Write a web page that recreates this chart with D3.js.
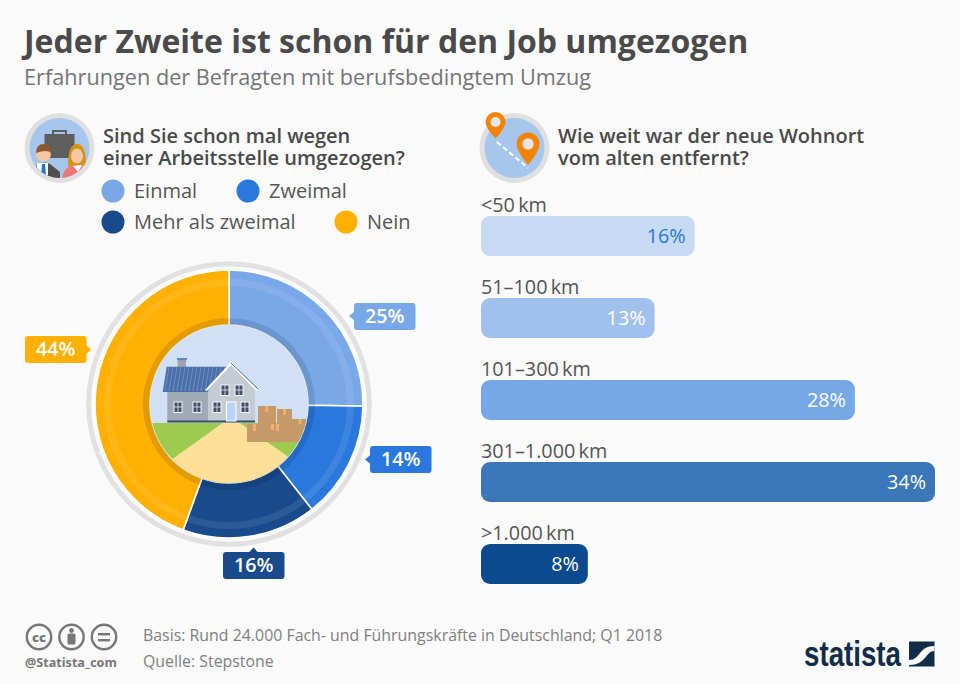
<!DOCTYPE html>
<html><head><meta charset="utf-8">
<script src="https://cdn.jsdelivr.net/npm/d3@7"></script>
<style>html,body{margin:0;padding:0;background:#fafafa}svg{display:block}text{font-family:"Open Sans",sans-serif}</style>
</head><body>
<script>
const donutCategories = ["Einmal","Zweimal","Mehr als zweimal","Nein"];
const donutValues = [25,14,16,44];
const donutColors = ["#79a8e8","#2a78de","#184a8c","#ffb000"];
const distanceCategories = ["<50\u2009km","51–100\u2009km","101–300\u2009km","301–1.000\u2009km",">1.000\u2009km"];
const distanceValues = [16,13,28,34,8];
const distanceColors = ["#c6daf3","#a0c1ee","#76a7e6","#3a76b8","#0b4a8f"];
const distanceTextColors = ["#2a78d4","#fff","#fff","#fff","#fff"];
const questionLeft = ["Sind Sie schon mal wegen","einer Arbeitsstelle umgezogen?"];
const questionRight = ["Wie weit war der neue Wohnort","vom alten entfernt?"];

const ink="#4a4a4a";
const svg=d3.select("body").append("svg").attr("width",960).attr("height",684);
svg.append("rect").attr("width",960).attr("height",684).attr("fill","#fafafa");
function T(x,y,s,size,fill,weight,anchor){
  return svg.append("text").attr("x",x).attr("y",y).text(s).attr("font-size",size).attr("fill",fill||ink)
   .attr("font-weight",weight||400).attr("text-anchor",anchor||"start");
}
function T2(x,y,lines,size,fill,weight,dy){
  const t=svg.append("text").attr("x",x).attr("y",y).attr("font-size",size).attr("fill",fill).attr("font-weight",weight);
  lines.forEach((l,i)=>t.append("tspan").attr("x",x).attr("dy",i?dy:0).text(l));
}
T(24,53,"Jeder Zweite ist schon für den Job umgezogen",32,ink,700);
T(24,85,"Erfahrungen der Befragten mit berufsbedingtem Umzug",21.7,"#757575");
T2(103,143,questionLeft,20,ink,600,22);
T2(558,143,questionRight,20,ink,600,22);

// legend
const legendPos=[[113,191],[248,191],[113,222],[346,222]];
donutCategories.forEach((c,i)=>{
  svg.append("circle").attr("cx",legendPos[i][0]).attr("cy",legendPos[i][1]).attr("r",11.5).attr("fill",donutColors[i]);
  T(legendPos[i][0]+21,legendPos[i][1]+7,c,20,"#555");
});

// icon 1
const ic1=svg.append("g");
ic1.append("circle").attr("cx",59.5).attr("cy",148).attr("r",35).attr("fill","#e0e0e0");
ic1.append("circle").attr("cx",59.5).attr("cy",148).attr("r",30).attr("fill","#a6c6ee");
ic1.append("defs").append("clipPath").attr("id","c1").append("circle").attr("cx",59.5).attr("cy",148).attr("r",30);
const ic1c=ic1.append("g").attr("clip-path","url(#c1)");
ic1c.append("rect").attr("x",44.5).attr("y",134).attr("width",30).attr("height",24).attr("fill","#5e5e5e");
ic1c.append("rect").attr("x",53).attr("y",131).attr("width",13).attr("height",4).attr("fill","none").attr("stroke","#5e5e5e").attr("stroke-width",2);
ic1c.append("path").attr("d","M36 178 V166 Q43 160 50 164 L60 172 V178Z").attr("fill","#4f4f4f");
ic1c.append("rect").attr("x",37).attr("y",163).attr("width",11).attr("height",15).attr("fill","#fff");
ic1c.append("path").attr("d","M42 164 h3 l1 12 h-5z").attr("fill","#1d76d2");
ic1c.append("circle").attr("cx",43.5).attr("cy",154).attr("r",7.5).attr("fill","#f5c6a0");
ic1c.append("path").attr("d","M36 153 Q36 144 44 144 Q51 144 51 153 Q47 149 36 153Z").attr("fill","#8a5a32");
ic1c.append("path").attr("d","M68 166 Q68 144 77 144 Q86 144 86 166 Z").attr("fill","#d6930f");
ic1c.append("path").attr("d","M62 178 Q64 168 72 165 H82 L86 178Z").attr("fill","#ee7676");
ic1c.append("path").attr("d","M73 166 L78 172 L82 165Z").attr("fill","#fff");
ic1c.append("ellipse").attr("cx",77).attr("cy",156).attr("rx",6).attr("ry",7.5).attr("fill","#f5c6a0");

// icon 2
const ic2=svg.append("g");
ic2.append("circle").attr("cx",514.5).attr("cy",148).attr("r",35).attr("fill","#e0e0e0");
ic2.append("circle").attr("cx",514.5).attr("cy",148).attr("r",30).attr("fill","#a6c6ee");
ic2.append("line").attr("x1",497).attr("y1",142).attr("x2",528).attr("y2",168).attr("stroke","#fff").attr("stroke-width",2).attr("stroke-dasharray","5 3");
function pin(cx,cy,r,tip){
  ic2.append("path").attr("d",`M${cx-r} ${cy} A${r} ${r} 0 1 1 ${cx+r} ${cy} Q${cx+r} ${cy+r*.6} ${cx} ${tip} Q${cx-r} ${cy+r*.6} ${cx-r} ${cy}Z`).attr("fill","#f58300");
  ic2.append("circle").attr("cx",cx).attr("cy",cy).attr("r",r*.5).attr("fill","#e6e6e6");
}
pin(495.5,122,10,138.5);
pin(528,144,11.5,165);

// donut
const cx=229,cy=404;
const don=svg.append("g").attr("transform",`translate(${cx},${cy})`);
don.append("circle").attr("r",140.3).attr("fill","none").attr("stroke","#e1e1e1").attr("stroke-width",5);
const pie=d3.pie().sort(null).value(d=>d)(donutValues);
const arc=d3.arc().innerRadius(79).outerRadius(134);
const band1=d3.arc().innerRadius(79).outerRadius(86);
const band2=d3.arc().innerRadius(118).outerRadius(125);
const defs=svg.append("defs");
defs.append("clipPath").attr("id","scene").append("circle").attr("cx",cx).attr("cy",cy).attr("r",79);

// centre scene
const sc=svg.append("g").attr("clip-path","url(#scene)");
sc.append("rect").attr("x",cx-80).attr("y",cy-80).attr("width",160).attr("height",160).attr("fill","#cfe0f7");
sc.append("rect").attr("x",cx-80).attr("y",423).attr("width",160).attr("height",70).attr("fill","#9ccb50");
sc.append("path").attr("d","M222.7 423 L240 423 L310 472 L229 500 L150 475Z").attr("fill","#fddf98");
sc.append("rect").attr("x",177.7).attr("y",360).attr("width",8.3).attr("height",7).attr("fill","#a0a4a8");
sc.append("rect").attr("x",177).attr("y",358).attr("width",10).attr("height",2.2).attr("fill","#5b8bc4");
sc.append("rect").attr("x",167.3).attr("y",391).attr("width",41).attr("height",31).attr("fill","#a0a9b4");
sc.append("path").attr("d","M162.7 392 L166.7 366.7 L230 366.7 L208 392Z").attr("fill","#486fa8");
d3.range(169,226,4).forEach(x=>sc.append("line").attr("x1",x).attr("y1",367).attr("x2",x-4).attr("y2",391).attr("stroke","#6f91c0").attr("stroke-width",1));
sc.append("path").attr("d","M208.3 390 L231 364 L255 390 V422 H208.3Z").attr("fill","#c5cbd3");
sc.append("path").attr("d","M206 390.5 L231 363.5 L257 390").attr("fill","none").attr("stroke","#fff").attr("stroke-width",2);
sc.append("path").attr("d","M231 363 L258 389").attr("fill","none").attr("stroke","#1e3f73").attr("stroke-width",.8);
sc.append("rect").attr("x",167.3).attr("y",420.5).attr("width",87.7).attr("height",2).attr("fill","#3a4d6e");
[[174,402],[193,402],[213,402],[241,402],[221,385],[235,385]].forEach(w=>{
  sc.append("rect").attr("x",w[0]).attr("y",w[1]).attr("width",8).attr("height",10.5).attr("fill","#43506a").attr("stroke","#fff").attr("stroke-width",.9);
  sc.append("path").attr("d",`M${w[0]+4} ${w[1]} v10.5 M${w[0]} ${w[1]+5} h8`).attr("stroke","#fff").attr("stroke-width",.7);
});
sc.append("rect").attr("x",226.5).attr("y",402).attr("width",9.5).attr("height",19).attr("fill","#b9d5f5").attr("stroke","#fff").attr("stroke-width",1);
[[258,406,18,19],[277,409,15,16],[292,419,16,8],[247,424,60,18]].forEach(b=>{
  sc.append("rect").attr("x",b[0]).attr("y",b[1]).attr("width",b[2]).attr("height",b[3]).attr("fill","#c69a68");
  sc.append("rect").attr("x",b[0]+b[2]*.4).attr("y",b[1]).attr("width",3).attr("height",Math.min(6,b[3])).attr("fill","#eeb06e");
});
sc.append("rect").attr("x",253).attr("y",424).attr("width",3).attr("height",7).attr("fill","#eeb06e");
sc.append("rect").attr("x",276).attr("y",424).attr("width",3).attr("height",7).attr("fill","#eeb06e");

don.selectAll("path.s").data(pie).join("path").attr("class","s").attr("d",arc)
  .attr("fill",(d,i)=>donutColors[i]).attr("stroke","#fff").attr("stroke-width",1.6);
don.selectAll("path.b1").data(pie).join("path").attr("class","b1").attr("d",band1).attr("fill","#000").attr("fill-opacity",.11);
don.selectAll("path.b2").data(pie).join("path").attr("class","b2").attr("d",band2).attr("fill","#fff").attr("fill-opacity",.09);

// callouts
const callouts=[
 {x:354,y:303,px:349,py:316,dir:"l"},
 {x:370,y:446,px:365,py:459.5,dir:"l"},
 {x:223,y:552,px:253.5,py:547.5,dir:"t"},
 {x:25,y:336,px:91,py:349.5,dir:"r"}];
callouts.forEach((c,i)=>{
  const col=donutColors[i],w=61.5,h=27;
  svg.append("rect").attr("x",c.x).attr("y",c.y).attr("width",w).attr("height",h).attr("rx",3).attr("fill",col);
  const p= c.dir==="l"?`M${c.x+1} ${c.py-5} L${c.px} ${c.py} L${c.x+1} ${c.py+5}Z`
        : c.dir==="r"?`M${c.x+w-1} ${c.py-5} L${c.px} ${c.py} L${c.x+w-1} ${c.py+5}Z`
        : `M${c.px-5} ${c.y+1} L${c.px} ${c.py} L${c.px+5} ${c.y+1}Z`;
  svg.append("path").attr("d",p).attr("fill",col);
  T(c.x+w/2,c.y+19.5,donutValues[i]+"%",19.6,"#fff",600,"middle");
});

// bars
const xS=d3.scaleLinear().domain([0,34]).range([0,454]);
const yS=d3.scaleBand().domain(distanceCategories).range([216,584]).paddingInner(42/82);
distanceCategories.forEach((c,i)=>{
  const y=yS(c),w=xS(distanceValues[i]);
  svg.append("rect").attr("x",481).attr("y",y).attr("width",w).attr("height",yS.bandwidth()).attr("rx",9).attr("fill",distanceColors[i]);
  T(481,y-4.5,c,19.8,"#555");
  T(481+w-9,y+26.5,distanceValues[i]+"%",19.8,distanceTextColors[i],400,"end");
});

// footer
[39,71.5,104].forEach(x=>svg.append("circle").attr("cx",x).attr("cy",637).attr("r",12.2).attr("fill","none").attr("stroke","#777").attr("stroke-width",2.4));
T(39,641.5,"cc",13,"#777",800,"middle");
svg.append("circle").attr("cx",71.5).attr("cy",630.5).attr("r",2.4).attr("fill","#777");
svg.append("rect").attr("x",67.5).attr("y",633.5).attr("width",8).attr("height",11).attr("rx",1.5).attr("fill","#777");
svg.append("rect").attr("x",98).attr("y",633).attr("width",12).attr("height",2.4).attr("fill","#777");
svg.append("rect").attr("x",98).attr("y",639).attr("width",12).attr("height",2.4).attr("fill","#777");
T(25,667,"@Statista_com",12.6,"#777",700);
T(143,640.5,"Basis: Rund 24.000 Fach- und Führungskräfte in Deutschland; Q1 2018",15.9,"#808080");
T(143,667,"Quelle: Stepstone",15.9,"#808080");

// logo
svg.append("text").attr("x",804).attr("y",666).text("statista").attr("font-size",35).attr("font-weight",700)
 .attr("fill","#0f2d48").attr("textLength",97).attr("lengthAdjust","spacingAndGlyphs").style("font-family","'Liberation Sans',sans-serif");
svg.append("rect").attr("x",909).attr("y",641.5).attr("width",25.5).attr("height",25).attr("fill","#0f2d48");
svg.append("path").attr("d","M909 660 C921 660 918 646 934.5 646 V651 C925 651 927 665 909 665Z").attr("fill","#fafafa");
</script>
</body></html>
